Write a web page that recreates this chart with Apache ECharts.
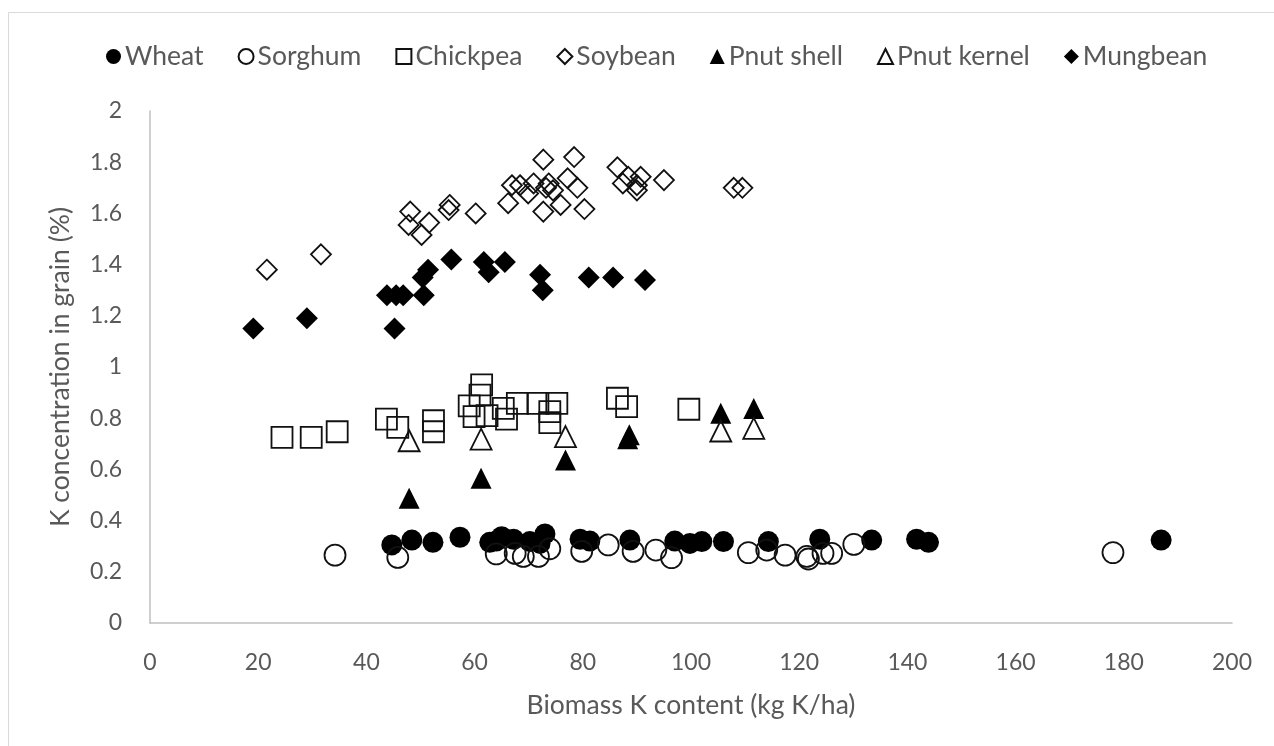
<!DOCTYPE html>
<html>
<head>
<meta charset="utf-8">
<script src="https://cdn.jsdelivr.net/npm/echarts@6/dist/echarts.min.js"></script>
<style>
html,body{margin:0;padding:0;background:#fff;}
#chart{width:1274px;height:746px;}
</style>
</head>
<body>
<div id="chart"></div>
<script>
// ---- data: [biomass K content (kg K/ha), K concentration in grain (%)] ----
const seriesNames = ["Wheat","Sorghum","Chickpea","Soybean","Pnut shell","Pnut kernel","Mungbean"];
const xTicks = [0,20,40,60,80,100,120,140,160,180,200];
const yTicks = [0,0.2,0.4,0.6,0.8,1,1.2,1.4,1.6,1.8,2];

const wheat = [[44.7,0.305],[48.4,0.324],[52.3,0.315],[57.3,0.335],[62.8,0.315],[64.0,0.32],[65.0,0.337],[67.2,0.327],[70.2,0.318],[72.1,0.311],[73.0,0.348],[79.5,0.327],[81.3,0.32],[88.7,0.324],[97.0,0.32],[99.8,0.311],[102.0,0.318],[106.0,0.318],[114.3,0.318],[123.8,0.327],[133.4,0.324],[141.7,0.327],[143.9,0.315],[186.9,0.324]];
const sorghum = [[34.2,0.265],[45.8,0.256],[64.0,0.27],[67.5,0.272],[69.0,0.26],[71.8,0.26],[73.9,0.29],[79.8,0.28],[84.7,0.305],[89.3,0.28],[93.5,0.285],[96.4,0.255],[110.6,0.275],[114.0,0.285],[117.4,0.265],[121.4,0.26],[121.7,0.25],[124.4,0.272],[126.0,0.272],[130.1,0.307],[178.0,0.275]];
const chickpea = [[24.4,0.725],[29.8,0.725],[34.6,0.747],[43.7,0.796],[45.8,0.764],[52.4,0.79],[52.4,0.747],[61.3,0.93],[61.0,0.89],[59.0,0.848],[59.9,0.806],[62.3,0.81],[65.3,0.838],[65.9,0.796],[67.9,0.858],[71.7,0.858],[75.2,0.858],[73.9,0.826],[73.9,0.783],[86.4,0.878],[88.1,0.845],[99.6,0.835]];
const soybean = [[21.6,1.38],[31.6,1.44],[48.1,1.607],[47.8,1.555],[50.2,1.516],[51.6,1.564],[55.4,1.633],[55.2,1.613],[60.2,1.60],[66.2,1.64],[66.9,1.71],[68.4,1.71],[69.9,1.678],[70.9,1.717],[72.7,1.81],[72.7,1.607],[73.2,1.70],[73.7,1.717],[74.5,1.69],[75.9,1.633],[77.2,1.737],[78.4,1.82],[79.0,1.70],[80.3,1.617],[86.4,1.78],[87.4,1.717],[88.4,1.743],[90.0,1.69],[90.7,1.743],[90.0,1.71],[95.0,1.73],[107.9,1.70],[109.5,1.70]];
const pnutShell = [[47.9,0.487],[61.2,0.565],[76.8,0.637],[88.3,0.72],[88.6,0.735],[105.5,0.819],[111.6,0.838]];
const pnutKernel = [[47.9,0.712],[61.2,0.718],[76.8,0.728],[105.5,0.75],[111.6,0.76]];
const mungbean = [[19.1,1.15],[29.0,1.19],[45.2,1.15],[43.8,1.28],[45.5,1.28],[46.8,1.28],[50.6,1.28],[50.4,1.35],[51.4,1.38],[55.7,1.42],[61.7,1.41],[62.6,1.37],[65.6,1.41],[72.1,1.36],[72.6,1.30],[81.1,1.35],[85.6,1.35],[91.5,1.34]];

const FONT = 'Lato';
const TXT = '#595959';
const chart = echarts.init(document.getElementById('chart'), null, {renderer:'canvas'});

function filled(name, data, symbol, size){
  return {name, type:'scatter', data, symbol, symbolSize:size,
    itemStyle:{color:'#000', borderColor:'#000', borderWidth:0, opacity:1}};
}
function open(name, data, symbol, size){
  return {name, type:'scatter', data, symbol, symbolSize:size,
    itemStyle:{color:'rgba(0,0,0,0)', borderColor:'#111', borderWidth:1.8, opacity:1}};
}

chart.setOption({
  animation:false,
  backgroundColor:'#fff',
  graphic:[{type:'rect', shape:{x:8.5,y:12.5,width:1400,height:900}, style:{fill:'none', stroke:'#d9d9d9', lineWidth:1}, silent:true}],
  legend:{
    data:seriesNames, left:101, top:38, itemWidth:15, itemHeight:15, itemGap:34,
    textStyle:{fontFamily:FONT, fontSize:26.5, color:TXT, padding:[0,0,0,-1]}
  },
  grid:{left:150, right:42, top:111, bottom:123, containLabel:false},
  xAxis:{
    type:'value', min:0, max:200, interval:20,
    name:'Biomass K content (kg K/ha)', nameLocation:'middle', nameGap:69,
    nameTextStyle:{fontFamily:FONT, fontSize:26.5, color:TXT},
    axisLine:{show:true, lineStyle:{color:'#bfbfbf', width:1.5}},
    axisTick:{show:false}, splitLine:{show:false},
    axisLabel:{fontFamily:FONT, fontSize:23, color:TXT, margin:28}
  },
  yAxis:{
    type:'value', min:0, max:2, interval:0.2,
    name:'K concentration in grain (%)', nameLocation:'middle', nameGap:76,
    nameTextStyle:{fontFamily:FONT, fontSize:26.5, color:TXT},
    axisLine:{show:true, lineStyle:{color:'#bfbfbf', width:1.5}},
    axisTick:{show:false}, splitLine:{show:false},
    axisLabel:{fontFamily:FONT, fontSize:23, color:TXT, margin:28}
  },
  series:[
    filled('Wheat', wheat, 'circle', 21),
    open('Sorghum', sorghum, 'circle', 21),
    open('Chickpea', chickpea, 'rect', 21),
    open('Soybean', soybean, 'diamond', 20),
    filled('Pnut shell', pnutShell, 'triangle', 21),
    open('Pnut kernel', pnutKernel, 'triangle', 21),
    filled('Mungbean', mungbean, 'diamond', 22)
  ]
});
</script>
</body>
</html>
